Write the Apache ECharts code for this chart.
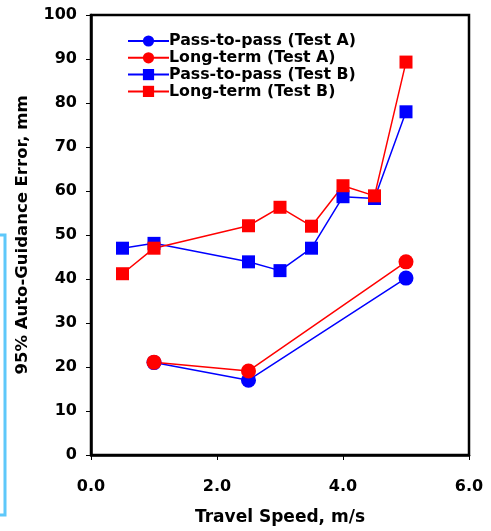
<!DOCTYPE html>
<html>
<head>
<meta charset="utf-8">
<script src="https://cdn.jsdelivr.net/npm/echarts@6/dist/echarts.min.js"></script>
<style>
  html, body { margin: 0; padding: 0; background: #fff; }
  #main { width: 491px; height: 531px; }
</style>
</head>
<body>
<div id="main"></div>
<script>
// 图表数据
var seriesNames = ['Pass-to-pass (Test A)', 'Long-term (Test A)', 'Pass-to-pass (Test B)', 'Long-term (Test B)'];
var speedA = [1.0, 2.5, 5.0];
var passA = [21.0, 17.0, 40.2];
var longA = [21.1, 19.1, 43.9];
var speedB = [0.5, 1.0, 2.5, 3.0, 3.5, 4.0, 4.5, 5.0];
var passB = [47.0, 48.1, 43.9, 41.9, 47.0, 58.7, 58.3, 78.0];
var longB = [41.2, 47.0, 52.1, 56.3, 52.0, 61.2, 58.9, 89.3];

function pairs(xs, ys) {
    var res = [];
    for (var i = 0; i < xs.length; i++) {
        res.push([xs[i], ys[i]]);
    }
    return res;
}

var font = 'DejaVu Sans, Arial, sans-serif';

function makeSeries(name, xs, ys, color, symbol, size) {
    return {
        name: name,
        type: 'line',
        data: pairs(xs, ys),
        symbol: symbol,
        symbolSize: size,
        itemStyle: { color: color },
        lineStyle: { color: color, width: 1.5 },
        emphasis: { disabled: true },
        animation: false
    };
}

var myChart = echarts.init(document.getElementById('main'));
var option = {
    backgroundColor: '#fff',
    grid: {
        left: 91, right: 22, top: 15, bottom: 76,
        show: true,
        borderColor: '#000',
        borderWidth: 2.5
    },
    legend: {
        orient: 'vertical',
        left: 122,
        top: 28,
        itemWidth: 41,
        itemHeight: 14,
        itemGap: 0.8,
        data: seriesNames,
        textStyle: {
            fontFamily: font, fontWeight: 'bold', fontSize: 15.8, lineHeight: 14,
            color: '#000', padding: [0, 0, 0, -5]
        }
    },
    xAxis: {
        type: 'value',
        min: 0, max: 6, interval: 2,
        name: 'Travel Speed, m/s',
        nameLocation: 'middle',
        nameGap: 54,
        nameTextStyle: { fontFamily: font, fontWeight: 'bold', fontSize: 17, color: '#000' },
        axisLine: { show: true, lineStyle: { color: '#000', width: 2.5 } },
        axisTick: { show: true, length: 5, lineStyle: { color: '#000', width: 1 } },
        splitLine: { show: false },
        axisLabel: {
            margin: 24,
            fontFamily: font, fontWeight: 'bold', fontSize: 16, color: '#000',
            formatter: function (v) { return v.toFixed(1); }
        }
    },
    yAxis: {
        type: 'value',
        min: 0, max: 100, interval: 10,
        name: '95% Auto-Guidance Error, mm',
        nameLocation: 'middle',
        nameGap: 60,
        nameTextStyle: { fontFamily: font, fontWeight: 'bold', fontSize: 16.5, color: '#000' },
        axisLine: { show: true, lineStyle: { color: '#000', width: 2.5 } },
        axisTick: { show: true, length: 5, lineStyle: { color: '#000', width: 1 } },
        splitLine: { show: false },
        axisLabel: {
            margin: 14,
            fontFamily: font, fontWeight: 'bold', fontSize: 16, color: '#000'
        }
    },
    graphic: [
        {
            type: 'rect',
            shape: { x: -10, y: 235, width: 15, height: 280 },
            style: { fill: 'none', stroke: '#5ec8fa', lineWidth: 3 },
            silent: true
        }
    ],
    series: [
        makeSeries(seriesNames[0], speedA, passA, '#0000ff', 'circle', 15),
        makeSeries(seriesNames[1], speedA, longA, '#ff0000', 'circle', 15),
        makeSeries(seriesNames[2], speedB, passB, '#0000ff', 'rect', 13),
        makeSeries(seriesNames[3], speedB, longB, '#ff0000', 'rect', 13)
    ]
};
myChart.setOption(option);
</script>
</body>
</html>
